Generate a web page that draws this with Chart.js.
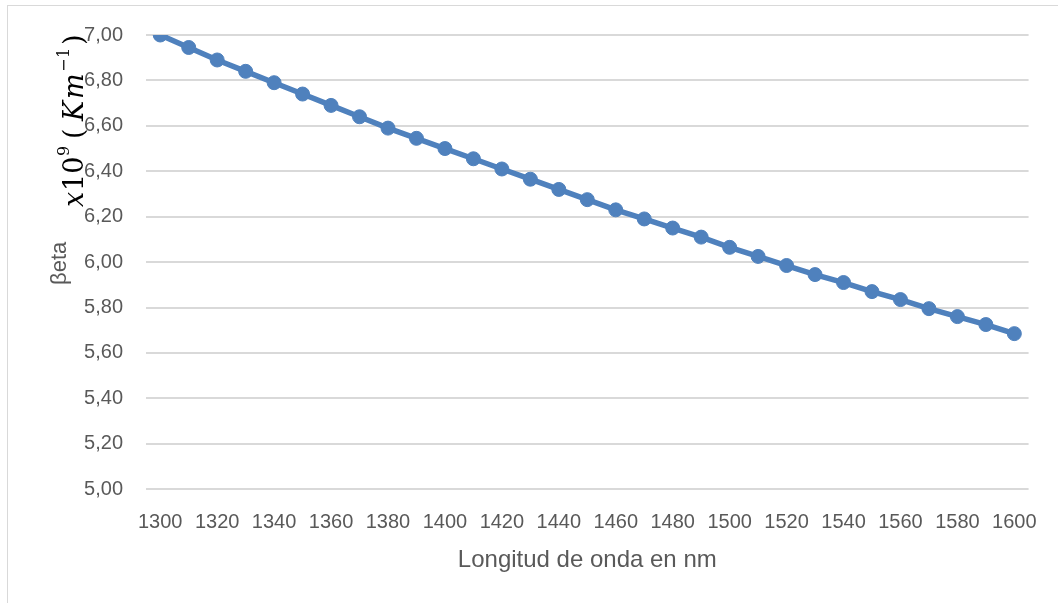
<!DOCTYPE html>
<html>
<head>
<meta charset="utf-8">
<script src="https://cdn.jsdelivr.net/npm/chart.js@4.4.1/dist/chart.umd.min.js"></script>
<style>
    body { margin: 0; background: #fff; }
    #wrap { position: relative; width: 1058px; height: 603px; overflow: hidden; background: #fff; }
    #frame { position: absolute; left: 7px; top: 5px; width: 1200px; height: 800px; border: 1px solid #d9d9d9; }
    #betaChart { position: absolute; left: 0; top: 0; }
</style>
</head>
<body>
<div id="wrap">
    <div id="frame"></div>
    <canvas id="betaChart" width="1058" height="603"></canvas>
</div>
<script>
const wavelengths = [1300, 1310, 1320, 1330, 1340, 1350, 1360, 1370, 1380, 1390,
    1400, 1410, 1420, 1430, 1440, 1450, 1460, 1470, 1480, 1490,
    1500, 1510, 1520, 1530, 1540, 1550, 1560, 1570, 1580, 1590, 1600];

const betaValues = [7.00, 6.945, 6.89, 6.84, 6.79, 6.74, 6.69, 6.64, 6.59, 6.545,
    6.50, 6.455, 6.41, 6.365, 6.32, 6.275, 6.23, 6.19, 6.15, 6.11,
    6.065, 6.025, 5.985, 5.945, 5.91, 5.87, 5.835, 5.795, 5.76, 5.725, 5.685];

const yMin = 5.0;
const yMax = 7.0;
const yStep = 0.2;

const xTitle = "Longitud de onda en nm";
const yTitleWord = "βeta";

// pieces of the y title: [text, font, start (screen y), baseline (screen x), color]
const yTitleParts = [
    [yTitleWord, "22px 'Liberation Sans', Arial, sans-serif", 285, 66, "#595959"],
    ["x", "italic 27px 'DejaVu Serif', serif", 207, 83, "#000"],
    ["10", "27px 'DejaVu Serif', serif", 191, 83, "#000"],
    ["9", "16px 'DejaVu Serif', serif", 156, 69, "#000"],
    ["(", "27px 'DejaVu Serif', serif", 139, 83, "#000"],
    ["K", "italic 27px 'DejaVu Serif', serif", 121, 83, "#000"],
    ["m", "italic 27px 'DejaVu Serif', serif", 99, 83, "#000"],
    ["\u2212", "16px 'DejaVu Serif', serif", 72, 69, "#000"],
    ["1", "16px 'DejaVu Serif', serif", 58, 69, "#000"],
    [")", "27px 'DejaVu Serif', serif", 45, 83, "#000"]
];

const yTitlePlugin = {
    id: "yTitle",
    afterDraw(chart) {
        const ctx = chart.ctx;
        yTitleParts.forEach(p => {
            ctx.save();
            ctx.translate(p[3], p[2]);
            ctx.rotate(-Math.PI / 2);
            ctx.font = p[1];
            ctx.fillStyle = p[4];
            ctx.textAlign = "left";
            ctx.textBaseline = "alphabetic";
            ctx.fillText(p[0], 0, 0);
            ctx.restore();
        });
    }
};

const tickFont = { family: "'Liberation Sans', Arial, sans-serif", size: 20 };

new Chart(document.getElementById("betaChart"), {
    type: "line",
    data: {
        labels: wavelengths,
        datasets: [{
            label: "βeta",
            data: betaValues,
            borderColor: "#4f81bd",
            backgroundColor: "#4f81bd",
            borderWidth: 5.5,
            pointRadius: 7,
            pointBorderWidth: 1,
            pointBackgroundColor: "#4f81bd",
            pointBorderColor: "#4f81bd",
            tension: 0,
            fill: false
        }]
    },
    options: {
        responsive: false,
        animation: false,
        devicePixelRatio: 1,
        layout: { padding: { left: 0, top: 34, right: 26, bottom: 28 } },
        plugins: {
            legend: { display: false },
            tooltip: { enabled: false }
        },
        scales: {
            x: {
                offset: true,
                grid: { display: false, drawTicks: false },
                border: { display: false },
                ticks: {
                    autoSkip: false,
                    maxRotation: 0,
                    padding: 21,
                    color: "#595959",
                    font: tickFont,
                    callback: function (value, index) {
                        return index % 2 === 0 ? this.getLabelForValue(value) : "";
                    }
                },
                title: {
                    display: true,
                    text: xTitle,
                    color: "#595959",
                    font: { family: "'Liberation Sans', Arial, sans-serif", size: 24 },
                    padding: { top: -9, bottom: 0 }
                }
            },
            y: {
                min: yMin,
                max: yMax,
                afterFit: function (scale) { scale.width = 146; },
                grid: { color: "#d9d9d9", lineWidth: 2, drawTicks: false },
                border: { display: false },
                ticks: {
                    stepSize: yStep,
                    padding: 23,
                    color: "#595959",
                    font: tickFont,
                    callback: v => v.toFixed(2).replace(".", ",")
                }
            }
        }
    },
    plugins: [yTitlePlugin]
});
</script>
</body>
</html>
